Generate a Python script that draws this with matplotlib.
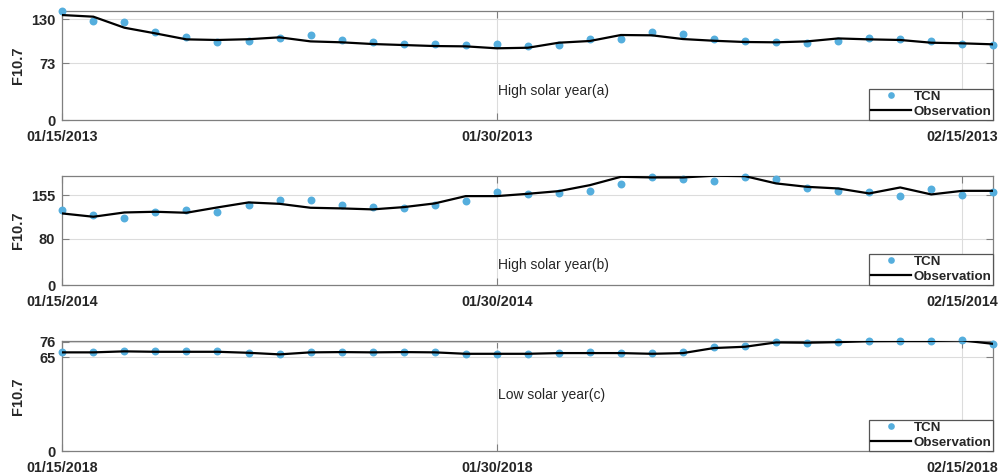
import numpy as np
import matplotlib
matplotlib.use("Agg")
import matplotlib.pyplot as plt
from matplotlib.lines import Line2D

plt.rcParams['font.family'] = ['Liberation Sans', 'DejaVu Sans']

# ---------------- data ----------------
days = list(range(31))

obs_a = [135.1, 133.0, 118.8, 111.5, 103.8, 103.0, 104.0, 106.4, 101.2, 100.0,
         97.8, 96.5, 95.2, 94.8, 92.3, 93.0, 99.5, 101.7, 109.4, 109.0,
         104.2, 102.0, 100.4, 100.0, 101.2, 105.0, 103.8, 103.0, 99.5, 98.7, 97.4]
tcn_a = [140.5, 127.8, 126.5, 113.3, 107.2, 100.0, 101.2, 105.5, 109.4, 103.0,
         100.8, 98.2, 97.4, 97.0, 97.4, 95.2, 96.5, 103.8, 104.7, 112.8,
         111.1, 104.2, 101.7, 100.0, 99.1, 101.2, 105.5, 103.8, 101.7, 97.8, 96.5]

obs_b = [123.4, 117.7, 125.1, 126.3, 124.6, 133.8, 142.4, 140.0, 133.2, 132.1,
         130.4, 134.3, 140.7, 153.3, 153.3, 157.3, 161.9, 172.2, 186.6, 185.5,
         185.5, 188.5, 187.7, 175.2, 169.3, 166.5, 157.9, 168.2, 156.2, 162.4, 162.4]
tcn_b = [129.2, 120.0, 115.4, 125.7, 128.6, 125.1, 137.8, 146.9, 145.8, 137.2,
         134.3, 132.6, 137.8, 145.2, 159.6, 157.3, 158.5, 162.4, 173.4, 186.6,
         182.6, 179.7, 185.5, 182.6, 167.6, 161.3, 160.8, 153.3, 165.3, 154.5, 160.2]

obs_c = [68.5, 68.5, 69.2, 68.9, 68.9, 68.9, 68.2, 67.1, 68.5, 68.7,
         68.5, 68.7, 68.5, 67.5, 67.5, 67.5, 68.0, 68.0, 68.0, 67.5,
         68.0, 71.5, 72.4, 75.4, 75.2, 75.6, 76.3, 76.4, 76.4, 76.8, 74.4]
tcn_c = [68.7, 68.7, 69.4, 69.1, 69.1, 69.1, 68.2, 67.3, 68.9, 68.9,
         68.5, 68.9, 68.7, 67.7, 67.5, 67.5, 68.2, 68.5, 68.2, 68.2,
         68.7, 72.4, 72.6, 75.4, 75.2, 75.8, 76.5, 76.5, 76.3, 76.8, 74.0]

xtick_pos = [0, 14, 29]
xtick_a = ['01/15/2013', '01/30/2013', '02/15/2013']
xtick_b = ['01/15/2014', '01/30/2014', '02/15/2014']
xtick_c = ['01/15/2018', '01/30/2018', '02/15/2018']

yticks_a = [0, 73, 130]
yticks_b = [0, 80, 155]
yticks_c = [0, 65, 76]

ylims = [(0, 140.7), (0, 188.5), (0, 76.6)]
labels = ['High solar year(a)', 'High solar year(b)', 'Low solar year(c)']
label_y = [37.3, 34.4, 38.8]

# ---------------- figure ----------------
W, H = 999, 473
fig = plt.figure(figsize=(W / 100, H / 100), dpi=100)

boxes = [(10.7, 120.0), (175.7, 285.0), (340.7, 451.0)]
left_px, right_px = 62.3, 993.3

dot_color = '#55AEDD'
spine_color = '#7f7f7f'
text_color = '#262626'

panels = [
    (obs_a, tcn_a, xtick_a, yticks_a),
    (obs_b, tcn_b, xtick_b, yticks_b),
    (obs_c, tcn_c, xtick_c, yticks_c),
]

for i, (obs, tcn, xt, yt) in enumerate(panels):
    top, bot = boxes[i]
    ax = fig.add_axes([left_px / W, 1 - bot / H, (right_px - left_px) / W, (bot - top) / H])
    ax.set_xlim(0, 30)
    ax.set_ylim(*ylims[i])
    ax.grid(True, color='#dcdcdc', linewidth=0.8)
    ax.set_axisbelow(True)
    ax.plot(days, tcn, 'o', color=dot_color, markersize=5.7, markeredgewidth=0,
            clip_on=False, zorder=3, label='TCN')
    ax.plot(days, obs, '-', color='black', linewidth=1.6, zorder=4, label='Observation')
    ax.set_xticks(xtick_pos)
    ax.set_xticklabels(xt)
    ax.set_yticks(yt)
    ax.tick_params(direction='in', length=5, width=0.8, color=spine_color,
                   top=True, right=True, labelcolor=text_color)
    ax.tick_params(axis='x', pad=7, labelsize=10.3)
    ax.tick_params(axis='y', pad=5, labelsize=10.5)
    for lab in ax.get_xticklabels() + ax.get_yticklabels():
        lab.set_fontweight('bold')
    for s in ax.spines.values():
        s.set_color(spine_color)
        s.set_linewidth(0.9)
    ax.text(14.05, label_y[i], labels[i], fontsize=10, color=text_color,
            ha='left', va='center')
    handles = [Line2D([], [], marker='o', linestyle='none', color=dot_color,
                      markersize=4.8, markeredgewidth=0),
               Line2D([], [], color='black', linewidth=1.6)]
    leg = ax.legend(handles, ['TCN', 'Observation'], loc='lower right',
                    borderaxespad=0, borderpad=0.15, handlelength=3.0,
                    handletextpad=0.2, labelspacing=0.2, fancybox=False,
                    framealpha=1, edgecolor='#555555',
                    prop={'weight': 'bold', 'size': 9.6})
    leg.get_frame().set_linewidth(0.9)
    for t in leg.get_texts():
        t.set_color(text_color)
    fig.text(18 / W, 1 - ((top + bot) / 2) / H, 'F10.7', rotation=90,
             ha='center', va='center', fontsize=10.5, fontweight='bold',
             color=text_color)

fig.savefig('out.png', dpi=100)
